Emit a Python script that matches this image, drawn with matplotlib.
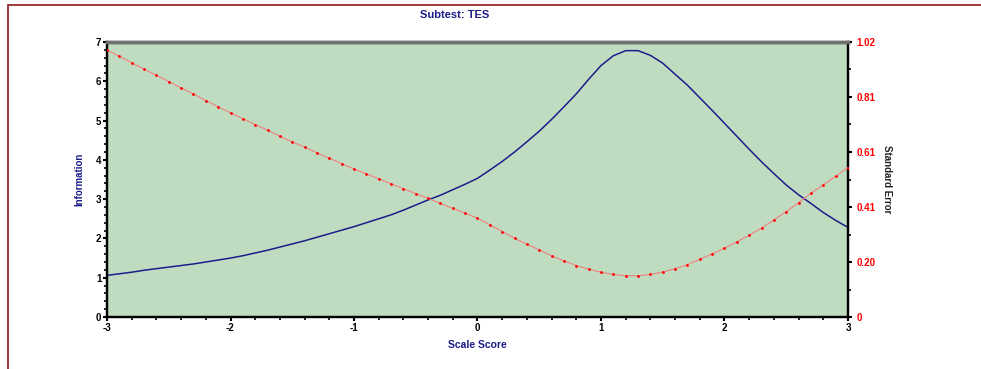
import numpy as np
import matplotlib
matplotlib.use('Agg')
import matplotlib.pyplot as plt
from matplotlib.patches import Rectangle
from matplotlib.ticker import MultipleLocator, AutoMinorLocator

plt.rcParams['font.family'] = ['Liberation Sans', 'DejaVu Sans']
plt.rcParams['axes.unicode_minus'] = False

# scale scores (step 0.1)
scale_score = np.round(np.arange(-3.0, 3.0001, 0.1), 1)

# test information (left axis)
information = [
    1.06, 1.10, 1.14, 1.19, 1.23, 1.27, 1.31, 1.35, 1.40, 1.45,
    1.50, 1.56, 1.63, 1.70, 1.78, 1.86, 1.94, 2.03, 2.12, 2.21,
    2.30, 2.40, 2.50, 2.60, 2.72, 2.85, 2.98, 3.10, 3.24, 3.38,
    3.53, 3.74, 3.96, 4.20, 4.46, 4.73, 5.03, 5.35, 5.68, 6.05,
    6.40, 6.65, 6.78, 6.78, 6.66, 6.46, 6.18, 5.90, 5.58, 5.26,
    4.93, 4.60, 4.27, 3.95, 3.65, 3.36, 3.11, 2.89, 2.66, 2.46,
    2.28,
]

# standard error (right axis)
std_error = [
    0.990, 0.967, 0.943, 0.919, 0.896, 0.873, 0.850, 0.827, 0.803, 0.780,
    0.757, 0.736, 0.714, 0.693, 0.670, 0.650, 0.630, 0.609, 0.589, 0.569,
    0.549, 0.531, 0.513, 0.494, 0.476, 0.458, 0.440, 0.421, 0.403, 0.385,
    0.366, 0.342, 0.317, 0.292, 0.270, 0.249, 0.227, 0.208, 0.191, 0.177,
    0.166, 0.158, 0.153, 0.153, 0.158, 0.167, 0.179, 0.194, 0.214, 0.234,
    0.255, 0.279, 0.303, 0.330, 0.360, 0.391, 0.424, 0.459, 0.490, 0.522,
    0.554,
]

se_tick_labels = ['0', '0.20', '0.41', '0.61', '0.81', '1.02']

navy = '#1c1c8a'
fig = plt.figure(figsize=(9.81, 3.69), dpi=100)

# outer frame of the page
fig.patches.append(Rectangle((8 / 981, -0.1), 1.1, 1 - 5 / 369 + 0.1,
                             transform=fig.transFigure, fill=False,
                             edgecolor='#8b1a1a', linewidth=1.2))

ax = fig.add_axes([107 / 981, 1 - 317 / 369, 741 / 981, 275 / 369])
ax.set_facecolor('#c0dcc0')
ax.plot(scale_score, information, color=navy, linewidth=1.1, zorder=3)
ax.set_xlim(-3, 3)
ax.set_ylim(0, 7)
ax.xaxis.set_major_locator(MultipleLocator(1))
ax.xaxis.set_minor_locator(MultipleLocator(0.2))
ax.yaxis.set_major_locator(MultipleLocator(1))
ax.yaxis.set_minor_locator(MultipleLocator(0.2))

ax2 = ax.twinx()
ax2.plot(scale_score, std_error, color='#f08080', linewidth=0.8,
         marker='o', markersize=1.0, markerfacecolor='red',
         markeredgecolor='red', zorder=3)
ax2.set_ylim(0, 1.02)
ax2.set_yticks(np.linspace(0, 1.02, 6))
ax2.set_yticklabels(se_tick_labels)
ax2.yaxis.set_minor_locator(AutoMinorLocator(2))

for a in (ax, ax2):
    a.tick_params(which='major', direction='out', length=3, width=1.5,
                  labelsize=7, pad=1)
    a.tick_params(which='minor', direction='out', length=2, width=1.2)
    for lab in a.get_xticklabels() + a.get_yticklabels():
        lab.set_fontweight('bold')
    for side in ('left', 'right', 'bottom'):
        a.spines[side].set_linewidth(1.6)
        a.spines[side].set_color('black')
    a.spines['top'].set_linewidth(2.5)
    a.spines['top'].set_color('#707070')

for lab in ax2.get_yticklabels():
    lab.set_color('red')
ax2.tick_params(axis='y', pad=3)

ax.set_ylabel('Information', color=navy, fontsize=7, fontweight='bold',
              labelpad=8)
ax2.set_ylabel('Standard Error', color='#222222', fontsize=7,
               fontweight='bold', rotation=-90, labelpad=12)
ax.set_xlabel('Scale Score', color=navy, fontsize=7.5, fontweight='bold',
              labelpad=5)
fig.text(455 / 981, 1 - 15 / 369, 'Subtest: TES', color=navy, fontsize=8,
         fontweight='bold', ha='center', va='center')

fig.savefig('out.png', dpi=100)
